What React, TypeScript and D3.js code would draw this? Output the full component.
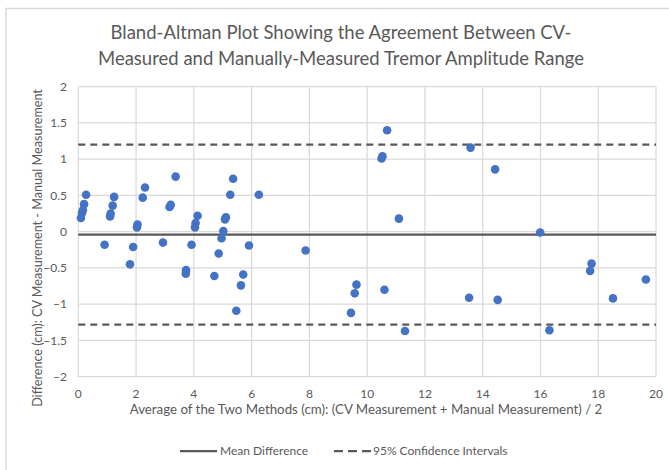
import React, { useEffect, useRef } from "react";
import * as d3 from "d3";

const avgValues = [
  0.09, 0.13, 0.16, 0.2, 0.27, 0.91, 1.1, 1.12, 1.19, 1.24, 1.79, 1.9, 2.03, 2.05, 2.23, 2.31, 2.93,
  3.16, 3.2, 3.37, 3.73, 3.72, 3.92, 4.04, 4.06, 4.13, 4.71, 4.86, 4.96, 5.02, 5.08, 5.11, 5.26, 5.36,
  5.47, 5.63, 5.71, 5.91, 6.25, 7.87, 9.44, 9.57, 9.63, 10.5, 10.53, 10.6, 10.69, 11.1, 11.31, 13.53,
  13.58, 14.43, 14.52, 15.99, 16.31, 17.72, 17.77, 18.51, 19.65,
];
const diffValues = [
  0.19, 0.26, 0.3, 0.38, 0.51, -0.18, 0.21, 0.25, 0.36, 0.48, -0.45, -0.21, 0.06, 0.1, 0.47, 0.61, -0.15,
  0.34, 0.37, 0.76, -0.53, -0.58, -0.18, 0.06, 0.12, 0.22, -0.61, -0.3, -0.09, 0.01, 0.17, 0.2, 0.51, 0.73,
  -1.09, -0.74, -0.59, -0.19, 0.51, -0.26, -1.12, -0.85, -0.73, 1.01, 1.04, -0.8, 1.4, 0.18, -1.37, -0.91,
  1.16, 0.86, -0.94, -0.01, -1.36, -0.54, -0.44, -0.92, -0.66,
];
const meanDifference = -0.04;
const upperLimit = 1.2;
const lowerLimit = -1.28;
const xTicks = [0, 2, 4, 6, 8, 10, 12, 14, 16, 18, 20];
const yTicks = [-2, -1.5, -1, -0.5, 0, 0.5, 1, 1.5, 2];
const titleLines = [
  "Bland-Altman Plot Showing the Agreement Between CV-",
  "Measured and Manually-Measured Tremor Amplitude Range",
];
const xTitle = "Average of the Two Methods (cm): (CV Measurement + Manual Measurement) / 2";
const yTitle = "Difference (cm): CV Measurement - Manual Measurement";
const legendItems = ["Mean Difference", "95% Confidence Intervals"];

const W = 669;
const H = 470;
const FONT = "Lato, 'Open Sans', sans-serif";

export default function App() {
  const ref = useRef<SVGSVGElement>(null);

  useEffect(() => {
    const svg = d3.select(ref.current);
    svg.selectAll("*").remove();

    const left = 78.3, right = 656, top = 86.7, bottom = 376.7;
    const x = d3.scaleLinear().domain([0, 20]).range([left, right]);
    const y = d3.scaleLinear().domain([-2, 2]).range([bottom, top]);

    svg.append("rect").attr("width", W).attr("height", H).attr("fill", "#fff");
    // outer chart border
    svg.append("rect").attr("x", 6).attr("y", 8.5).attr("width", W + 10).attr("height", H + 10)
      .attr("fill", "none").attr("stroke", "#d9d9d9").attr("stroke-width", 1.5);

    // title
    const title = svg.append("text").attr("text-anchor", "middle").attr("fill", "#595959")
      .attr("font-family", FONT).attr("font-size", 18.5);
    titleLines.forEach((t, i) => {
      title.append("tspan").attr("x", 341).attr("y", 39 + i * 26).text(t);
    });

    // gridlines
    const g = svg.append("g");
    g.selectAll("line.h").data(yTicks).join("line")
      .attr("x1", left).attr("x2", right)
      .attr("y1", (d) => y(d)).attr("y2", (d) => y(d))
      .attr("stroke", "#d9d9d9").attr("stroke-width", 1.2);
    g.selectAll("line.v").data(xTicks).join("line")
      .attr("y1", top).attr("y2", bottom)
      .attr("x1", (d) => x(d)).attr("x2", (d) => x(d))
      .attr("stroke", "#d9d9d9").attr("stroke-width", 1.2);

    // tick labels
    svg.append("g").selectAll("text").data(yTicks).join("text")
      .attr("x", 67).attr("y", (d) => y(d)).attr("dy", "0.35em")
      .attr("text-anchor", "end").attr("fill", "#595959")
      .attr("font-family", FONT).attr("font-size", 12)
      .text((d) => d3.format("")(d));
    svg.append("g").selectAll("text").data(xTicks).join("text")
      .attr("x", (d) => x(d)).attr("y", 398)
      .attr("text-anchor", "middle").attr("fill", "#595959")
      .attr("font-family", FONT).attr("font-size", 12)
      .text((d) => String(d));

    // axis titles
    svg.append("text").attr("x", 366).attr("y", 414).attr("text-anchor", "middle")
      .attr("fill", "#595959").attr("font-family", FONT).attr("font-size", 13.3).text(xTitle);
    svg.append("text").attr("transform", `translate(42,248) rotate(-90)`)
      .attr("text-anchor", "middle").attr("fill", "#595959")
      .attr("font-family", FONT).attr("font-size", 12.6).text(yTitle);

    // reference lines
    svg.append("line").attr("x1", left).attr("x2", right)
      .attr("y1", y(meanDifference)).attr("y2", y(meanDifference))
      .attr("stroke", "#595959").attr("stroke-width", 2.25);
    [upperLimit, lowerLimit].forEach((v) => {
      svg.append("line").attr("x1", left).attr("x2", right)
        .attr("y1", y(v)).attr("y2", y(v))
        .attr("stroke", "#595959").attr("stroke-width", 2.25)
        .attr("stroke-dasharray", "7,5");
    });

    // points
    svg.append("g").selectAll("circle").data(avgValues.map((a, i) => [a, diffValues[i]]))
      .join("circle")
      .attr("cx", (d) => x(d[0])).attr("cy", (d) => y(d[1]))
      .attr("r", 4.3).attr("fill", "#4472c4");

    // legend
    const ly = 451;
    const lg = svg.append("g");
    lg.append("line").attr("x1", 180).attr("x2", 217).attr("y1", ly).attr("y2", ly)
      .attr("stroke", "#595959").attr("stroke-width", 2.25);
    lg.append("text").attr("x", 220).attr("y", ly).attr("dy", "0.35em")
      .attr("fill", "#595959").attr("font-family", FONT).attr("font-size", 12).text(legendItems[0]);
    lg.append("line").attr("x1", 334).attr("x2", 371).attr("y1", ly).attr("y2", ly)
      .attr("stroke", "#595959").attr("stroke-width", 2.25).attr("stroke-dasharray", "9,5");
    lg.append("text").attr("x", 373).attr("y", ly).attr("dy", "0.35em")
      .attr("fill", "#595959").attr("font-family", FONT).attr("font-size", 12).text(legendItems[1]);
  }, []);

  return (
    <svg
      ref={ref}
      width={W}
      height={H}
      style={{ position: "fixed", left: 0, top: 0, display: "block" }}
    />
  );
}
